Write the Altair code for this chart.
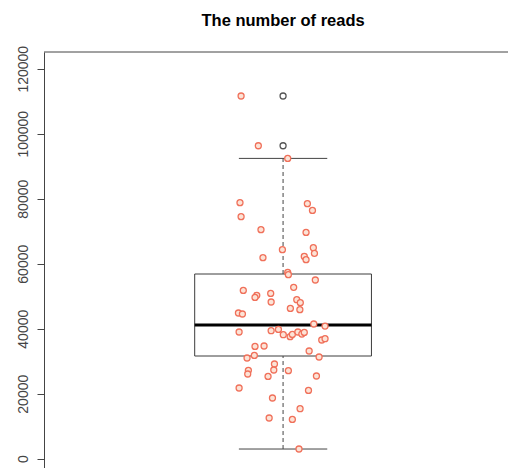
import altair as alt
import pandas as pd

# ---- data ----
jitter_x = [0.810, 0.888, 1.021, 0.805, 0.810, 0.900, 1.110, 1.133, 1.104, 0.997,
            0.909, 1.137, 1.142, 1.096, 1.104, 1.021, 1.024, 1.146, 0.820, 0.881,
            0.873, 0.944, 0.946, 1.048, 1.062, 1.078, 1.033, 1.076, 0.798, 0.816,
            1.139, 1.190, 0.801, 0.946, 0.979, 1.001, 1.032, 1.042, 1.067, 1.085,
            1.096, 1.175, 1.190, 0.873, 0.914, 1.118, 0.837, 0.870, 1.163, 0.961,
            0.958, 0.843, 0.840, 1.024, 0.932, 1.151, 0.801, 1.115, 0.952, 1.077,
            0.937, 1.042, 1.072]
reads = [111600, 96300, 92400, 78770, 74460, 70460, 78460, 76400, 69640, 64310,
         61850, 64920, 63180, 62250, 61230, 57330, 56620, 54980, 51790, 50260,
         49640, 50870, 48210, 52720, 48920, 48000, 46250, 45850, 44830, 44520,
         41440, 40820, 38980, 39380, 39790, 38150, 37540, 38250, 38980, 38360,
         38860, 36520, 36920, 34560, 34680, 33140, 30980, 31790, 31290, 29140,
         27290, 27180, 26060, 27080, 25330, 25450, 21750, 21020, 18680, 15380,
         12520, 12100, 2980]

q1 = 31600
median = 41130
q3 = 56830
whisker_lo = 2980
whisker_hi = 92400
outliers = [111600, 96300]

y_ticks = [0, 20000, 40000, 60000, 80000, 100000, 120000]
title_text = "The number of reads"

# ---- chart ----
FONT = "Liberation Sans"
W, H = 464, 416
center = 1.0
half_box = 0.4
half_cap = 0.2

xs = alt.Scale(domain=[-0.082, 2.018], nice=False, zero=False)
ys = alt.Scale(domain=[-2860, 125140], nice=False, zero=False)

yaxis = alt.Axis(values=y_ticks, format="d", labelAngle=-90, labelFontSize=14,
                 labelFont=FONT, labelColor="#444444", tickSize=7, labelPadding=7,
                 tickColor="#444444", domainColor="#444444", grid=False, title=None,
                 labelOverlap=False)

stats = pd.DataFrame({
    "left": [center - half_box], "right": [center + half_box],
    "cl": [center - half_cap], "cr": [center + half_cap], "c": [center],
    "q1": [q1], "q3": [q3], "median": [median],
    "lo": [whisker_lo], "hi": [whisker_hi],
})

base = alt.Chart(stats)

box = base.mark_rect(fillOpacity=0, stroke="#3c3c3c", strokeWidth=1).encode(
    x=alt.X("left:Q", scale=xs, axis=None), x2="right:Q",
    y=alt.Y("q1:Q", scale=ys, axis=yaxis), y2="q3:Q")

whisk_up = base.mark_rule(color="#444444", strokeWidth=1, strokeDash=[4, 3]).encode(
    x=alt.X("c:Q", scale=xs, axis=None),
    y=alt.Y("q3:Q", scale=ys), y2="hi:Q")
whisk_dn = base.mark_rule(color="#444444", strokeWidth=1, strokeDash=[4, 3]).encode(
    x=alt.X("c:Q", scale=xs, axis=None),
    y=alt.Y("lo:Q", scale=ys), y2="q1:Q")

cap_hi = base.mark_rule(color="#444444", strokeWidth=1).encode(
    x=alt.X("cl:Q", scale=xs, axis=None), x2="cr:Q",
    y=alt.Y("hi:Q", scale=ys))
cap_lo = base.mark_rule(color="#444444", strokeWidth=1).encode(
    x=alt.X("cl:Q", scale=xs, axis=None), x2="cr:Q",
    y=alt.Y("lo:Q", scale=ys))

med = base.mark_rule(color="#000000", strokeWidth=3).encode(
    x=alt.X("left:Q", scale=xs, axis=None), x2="right:Q",
    y=alt.Y("median:Q", scale=ys))

out_df = pd.DataFrame({"x": [center] * len(outliers), "v": outliers})
out_pts = alt.Chart(out_df).mark_point(shape="circle", filled=False, size=36,
                                       stroke="#555555", strokeWidth=1.3, opacity=1).encode(
    x=alt.X("x:Q", scale=xs, axis=None),
    y=alt.Y("v:Q", scale=ys))

pts_df = pd.DataFrame({"x": jitter_x, "reads": reads})
pts = alt.Chart(pts_df).mark_point(shape="circle", filled=True, size=36,
                                   fill="#FCE3D6", fillOpacity=1,
                                   stroke="#F0705A", strokeWidth=1.3, opacity=1).encode(
    x=alt.X("x:Q", scale=xs, axis=None),
    y=alt.Y("reads:Q", scale=ys))

top_line = alt.Chart(stats).mark_rule(color="#444444", strokeWidth=1).encode(
    x=alt.value(0), x2=alt.value(W), y=alt.value(0))

title = alt.Chart(pd.DataFrame({"t": [title_text], "c": [center]})).mark_text(
    font=FONT, fontSize=16.5, fontWeight="bold", color="#000000",
    align="center", baseline="alphabetic").encode(
    x=alt.X("c:Q", scale=xs, axis=None), y=alt.value(-26.3), text="t:N")

chart = alt.layer(box, whisk_up, whisk_dn, cap_hi, cap_lo, med, out_pts, pts,
                  top_line, title).properties(
    width=W, height=H,
    autosize=alt.AutoSizeParams(type="none"),
    padding={"left": 36, "top": 44, "right": 0, "bottom": 0},
    background="white",
).configure_view(stroke=None)

chart.save("out.html", embed_options={"renderer": "svg", "actions": False})
